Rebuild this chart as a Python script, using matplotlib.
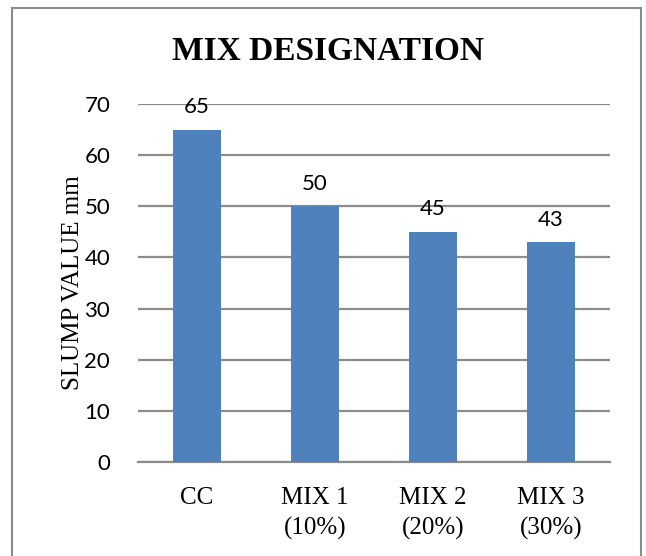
import matplotlib.pyplot as plt
import numpy as np
from matplotlib.lines import Line2D

mixes = ['CC', 'MIX 1\n(10%)', 'MIX 2\n(20%)', 'MIX 3\n(30%)']
slump = [65, 50, 45, 43]
yticks = [0, 10, 20, 30, 40, 50, 60, 70]

def main():
    fig = plt.figure(figsize=(6.46, 5.56), dpi=100)
    ax = fig.add_axes([138 / 646, 94 / 556, 472 / 646, 358 / 556])

    x = np.arange(len(mixes))
    ax.bar(x, slump, width=0.4, color='#4F81BD', zorder=3)

    for xi, v in zip(x, slump):
        ax.annotate(str(v), (xi, v), xytext=(0, 9), textcoords='offset points',
                    ha='center', va='bottom', fontsize=16, family='Lato',
                    zorder=4)

    ax.set_xlim(-0.5, len(mixes) - 0.5)
    ax.set_ylim(0, 70)
    ax.set_yticks(yticks)
    ax.set_xticks(x)
    ax.set_xticklabels(mixes, family='Liberation Serif', fontsize=18,
                       linespacing=1.45)
    for lab in ax.get_yticklabels():
        lab.set_family('Lato')
        lab.set_fontsize(16)
    ax.tick_params(length=0)
    ax.tick_params(axis='y', pad=20)
    ax.tick_params(axis='x', pad=18)

    ax.grid(axis='y', color='#8C8C8C', linewidth=1.6, zorder=0)
    for s in ['top', 'right', 'left']:
        ax.spines[s].set_visible(False)
    ax.spines['bottom'].set_color('#8C8C8C')
    ax.spines['bottom'].set_linewidth(1.6)

    ax.set_ylabel('SLUMP VALUE mm', family='Liberation Serif', fontsize=18,
                  labelpad=0)
    fig.text(328 / 646, 1 - 52 / 556, 'MIX DESIGNATION', ha='center',
             va='center', family='Liberation Serif', weight='bold', fontsize=24)

    # chart border: left, top, right
    c = '#8C8C8C'
    fig.add_artist(Line2D([12 / 646, 12 / 646], [0, 1 - 8 / 556], color=c, lw=1.5))
    fig.add_artist(Line2D([12 / 646, 641 / 646], [1 - 8 / 556, 1 - 8 / 556], color=c, lw=1.5))
    fig.add_artist(Line2D([641 / 646, 641 / 646], [0, 1 - 8 / 556], color=c, lw=1.5))

    fig.savefig('out.png', dpi=100)

main()
